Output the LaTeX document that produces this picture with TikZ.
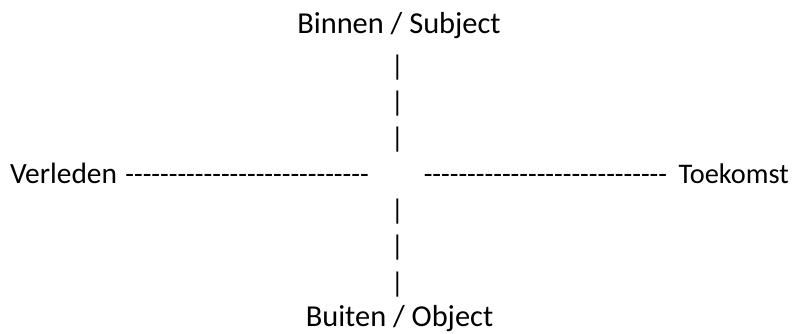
\documentclass[tikz,border=0pt]{standalone}
\usepackage{fontspec}
\setmainfont{Carlito}
\newcommand{\dashrun}[1]{\foreach \k in {1,...,#1}{-}}
\newcommand{\wordsize}{\fontsize{30.4}{36}\selectfont}
\newcommand{\sidesize}{\fontsize{29.4}{36}\selectfont}
\tikzset{
  lbl/.style={inner sep=0pt, outer sep=0pt, font=\fontsize{28.4}{34}\selectfont, text=black},
  bar/.style={lbl, anchor=center},
}
\begin{document}
\begin{tikzpicture}[x=1pt, y=-1pt]
  \useasboundingbox[fill=white] (0,0) rectangle (799,333);
  % vertical axis labels
  \node[lbl, anchor=base] (inner) at (399,33) {\wordsize Binnen / Subject};
  \node[lbl, anchor=base] (outer) at (399.5,326.7) {\wordsize Buiten / Object};
  % vertical axis drawn with bar characters
  \node[bar] (u1) at (397.5,67.5) {|};
  \node[bar] (u2) at (397.5,103.8) {|};
  \node[bar] (u3) at (397.5,139.5) {|};
  \node[bar] (d1) at (397.5,211.3) {|};
  \node[bar] (d2) at (397.5,248) {|};
  \node[bar] (d3) at (397.5,284.7) {|};
  % horizontal axis drawn with hyphens
  \node[lbl, anchor=base west] (past) at (10,183.3) {{\sidesize Verleden}\hspace{2pt} \dashrun{28}};
  \node[lbl, anchor=base east] (future) at (789,183.3) {\dashrun{28}\hspace{5pt} Toekomst};
\end{tikzpicture}
\end{document}
